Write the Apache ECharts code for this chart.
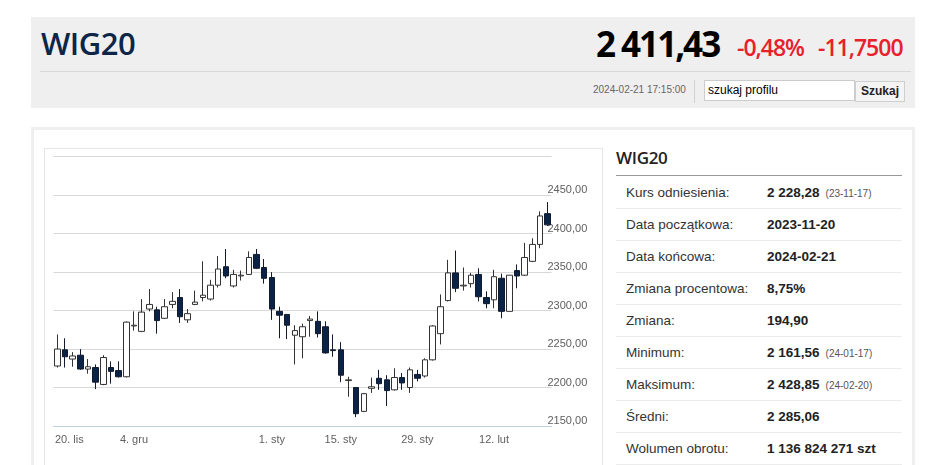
<!DOCTYPE html>
<html>
<head>
<meta charset="utf-8">
<script src="https://cdn.jsdelivr.net/npm/echarts@6/dist/echarts.min.js"></script>
<style>
  html, body { margin:0; padding:0; background:#fff; width:948px; height:465px; overflow:hidden; }
  .abs { position:absolute; }
  #header { left:31px; top:17px; width:884px; height:91px; background:#efefef; }
  #title { left:41px; top:22px; font-family:"Open Sans", sans-serif; font-weight:600; font-size:31px; color:#0d2547; letter-spacing:-0.5px; }
  #price { left:596px; top:20px; font-family:"Open Sans", sans-serif; font-weight:bold; font-size:35px; letter-spacing:-2px; color:#000; }
  .red { font-family:"Open Sans", sans-serif; font-weight:600; font-size:23px; color:#e8202a; letter-spacing:-1px; top:31px; }
  #sep { left:40px; top:71px; width:871px; height:1px; background:#d9d9d9; }
  #stamp { left:593px; top:84px; font-family:"Liberation Sans", Arial, sans-serif; font-size:10px; color:#666; }
  #vsep { left:694px; top:80px; width:1px; height:23px; background:#d0d0d0; }
  #search { left:704px; top:80px; width:146px; height:19px; background:#fff; border:1px solid #ccc; font-family:"Liberation Sans", Arial, sans-serif; font-size:12px; line-height:19px; color:#000; padding-left:3px; box-sizing:content-box; }
  #btn { left:855px; top:81px; width:48px; height:19px; background:#f4f4f4; border:1px solid #cfcfcf; font-family:"Liberation Sans", Arial, sans-serif; font-size:12px; font-weight:bold; line-height:19px; text-align:center; color:#222; }
  #panel { left:31px; top:127px; width:878px; height:400px; border:3px solid #efefef; }
  #frame { left:44px; top:148px; width:557px; height:400px; border:1px solid #e6e6e6; }
  #chart { left:45px; top:149px; width:556px; height:316px; }
  #tTitle { left:616px; top:146px; font-family:"Open Sans", sans-serif; font-weight:600; font-size:17px; color:#222; letter-spacing:-0.3px; }
  #tLine { left:616px; top:175px; width:286px; height:1px; background:#999; }
  #rows { left:616px; top:177px; width:286px; }
  .row { position:relative; height:31px; border-bottom:1px solid #ececec; font-family:"Liberation Sans", Arial, sans-serif; font-size:13.5px; line-height:31px; color:#333; }
  .row .lab { position:absolute; left:10px; top:0; }
  .row .val { position:absolute; left:151px; top:0; font-weight:bold; color:#222; }
  .row .small { font-weight:normal; font-size:10px; color:#555; margin-left:6px; }
</style>
</head>
<body>
<div id="header" class="abs"></div>
<div id="title" class="abs">WIG20</div>
<div id="price" class="abs">2 411,43</div>
<div class="abs red" style="left:737px;">-0,48%</div>
<div class="abs red" style="left:818px;">-11,7500</div>
<div id="sep" class="abs"></div>
<div id="stamp" class="abs">2024-02-21 17:15:00</div>
<div id="vsep" class="abs"></div>
<div id="search" class="abs">szukaj profilu</div>
<div id="btn" class="abs">Szukaj</div>

<div id="panel" class="abs"></div>
<div id="frame" class="abs"></div>
<div id="chart" class="abs"></div>

<div id="tTitle" class="abs">WIG20</div>
<div id="tLine" class="abs"></div>
<div id="rows" class="abs"></div>

<script>
// ---- data ----
const dates = [
  '2023-11-20','2023-11-21','2023-11-22','2023-11-23','2023-11-24','2023-11-27','2023-11-28','2023-11-29','2023-11-30','2023-12-01',
  '2023-12-04','2023-12-05','2023-12-06','2023-12-07','2023-12-08','2023-12-11','2023-12-12','2023-12-13','2023-12-14','2023-12-15',
  '2023-12-18','2023-12-19','2023-12-20','2023-12-21','2023-12-22','2023-12-27','2023-12-28','2023-12-29',
  '2024-01-02','2024-01-03','2024-01-04','2024-01-05','2024-01-08','2024-01-09','2024-01-10','2024-01-11','2024-01-12',
  '2024-01-15','2024-01-16','2024-01-17','2024-01-18','2024-01-19','2024-01-22','2024-01-23','2024-01-24','2024-01-25','2024-01-26',
  '2024-01-29','2024-01-30','2024-01-31','2024-02-01','2024-02-02','2024-02-05','2024-02-06','2024-02-07','2024-02-08','2024-02-09',
  '2024-02-12','2024-02-13','2024-02-14','2024-02-15','2024-02-16','2024-02-19','2024-02-20','2024-02-21'
];
const opens = [
  2228,2249,2237,2242,2224,2226,2204,2226,2222,2214,
  2280,2273,2302,2301,2290,2308,2317,2288,2308,2317,
  2315,2333,2357,2332,2345,2347,2373,2356,
  2343,2299,2295,2268,2266,2287,2286,2279,2249,
  2249,2209,2200,2169,2199,2212,2210,2197,2213,2200,
  2217,2215,2236,2270,2313,2349,2332,2335,2347,2317,
  2314,2342,2299,2352,2346,2364,2386,2426
];
const closes = [
  2250,2240,2241,2224,2227,2207,2239,2221,2214,2285,
  2281,2298,2308,2287,2305,2312,2292,2296,2311,2320,
  2333,2354,2345,2347,2346,2369,2355,2342,
  2302,2294,2281,2274,2279,2289,2270,2245,2248,
  2216,2210,2166,2192,2201,2205,2196,2213,2206,2223,
  2212,2236,2280,2305,2349,2329,2333,2346,2318,2309,
  2344,2299,2346,2345,2369,2386,2423,2411.43
];
const lows = [
  2226,2226,2227,2223,2218,2198,2203,2205,2213,2213,
  2274,2272,2299,2270,2289,2303,2284,2284,2307,2312,
  2313,2330,2342,2330,2339,2347,2354,2335,
  2288,2264,2263,2230,2238,2266,2265,2244,2240,
  2207,2188,2161.56,2168,2193,2197,2176,2196,2197,2193,
  2208,2213,2235,2256,2312,2324,2326,2330,2312,2303,
  2303,2290,2299,2329,2345,2363,2381,2410
];
const highs = [
  2269,2264,2246,2250,2237,2230,2242,2234,2234,2286,
  2299,2315,2328,2305,2315,2324,2328,2302,2326,2364,
  2340,2371,2380,2353,2352,2377,2380,2367,
  2350,2305,2295,2281,2283,2293,2299,2286,2269,
  2259,2214,2200,2193,2213,2223,2216,2225,2219,2226,
  2223,2238,2281,2321,2366,2378,2356,2349,2355,2325,
  2353,2348,2346,2360,2388,2394,2429,2441
];
const xTickLabels = {
  '2023-11-20':'20. lis', '2023-12-04':'4. gru', '2024-01-02':'1. sty',
  '2024-01-15':'15. sty', '2024-01-29':'29. sty', '2024-02-12':'12. lut'
};
const statLabels = ['Kurs odniesienia:','Data początkowa:','Data końcowa:','Zmiana procentowa:','Zmiana:','Minimum:','Maksimum:','Średni:','Wolumen obrotu:'];
const statValues = ['2 228,28','2023-11-20','2024-02-21','8,75%','194,90','2 161,56','2 428,85','2 285,06','1 136 824 271 szt'];
const statNotes = ['(23-11-17)','','','','','(24-01-17)','(24-02-20)','',''];

// ---- table ----
const rowsEl = document.getElementById('rows');
statLabels.forEach((l, i) => {
  const r = document.createElement('div');
  r.className = 'row';
  r.innerHTML = '<span class="lab"></span><span class="val"></span>';
  r.querySelector('.lab').textContent = l;
  const v = r.querySelector('.val');
  v.textContent = statValues[i];
  if (statNotes[i]) {
    const s = document.createElement('span');
    s.className = 'small';
    s.textContent = statNotes[i];
    v.appendChild(s);
  }
  rowsEl.appendChild(r);
});

// ---- chart ----
const chart = echarts.init(document.getElementById('chart'), null, {renderer:'canvas'});
const isTick = (i, v) => Object.prototype.hasOwnProperty.call(xTickLabels, v);
chart.setOption({
  animation: false,
  grid: { left: 8.5, top: 7.7, width: 498, height: 269.3, containLabel: false, outerBoundsMode: 'none' },
  xAxis: {
    type: 'category',
    data: dates,
    boundaryGap: true,
    axisLine: { lineStyle: { color: '#C0D0E0', width: 1 } },
    axisTick: { alignWithLabel: true, interval: isTick, length: 5, lineStyle: { color: '#C0D0E0' } },
    axisLabel: {
      interval: isTick,
      formatter: (v, i) => i === 0 ? '{first|' + xTickLabels[v] + '}' : (xTickLabels[v] || ''),
      rich: { first: { padding: [0, 0, 0, 24], fontSize: 11, color: '#606060', fontFamily: 'Liberation Sans, Arial, sans-serif' } },
      hideOverlap: false,
      color: '#606060', fontSize: 11, fontFamily: 'Liberation Sans, Arial, sans-serif',
      margin: 8
    },
    splitLine: { show: false }
  },
  yAxis: {
    type: 'value',
    position: 'right',
    min: 2150, max: 2500, interval: 50,
    axisLine: { show: false },
    axisTick: { show: false },
    splitLine: { lineStyle: { color: '#d8d8d8', width: 1 } },
    axisLabel: {
      margin: -4,
      verticalAlign: 'bottom',
      lineHeight: 10,
      color: '#606060', fontSize: 11, fontFamily: 'Liberation Sans, Arial, sans-serif',
      formatter: v => v >= 2500 ? '' : v.toFixed(2).replace('.', ',')
    }
  },
  series: [{
    type: 'candlestick',
    barWidth: 6,
    data: dates.map((d, i) => [opens[i], closes[i], lows[i], highs[i]]),
    itemStyle: {
      color: '#ffffff', color0: '#0b2346',
      borderColor: '#333333', borderColor0: '#111a2e', borderWidth: 1
    }
  }]
});
</script>
</body>
</html>
